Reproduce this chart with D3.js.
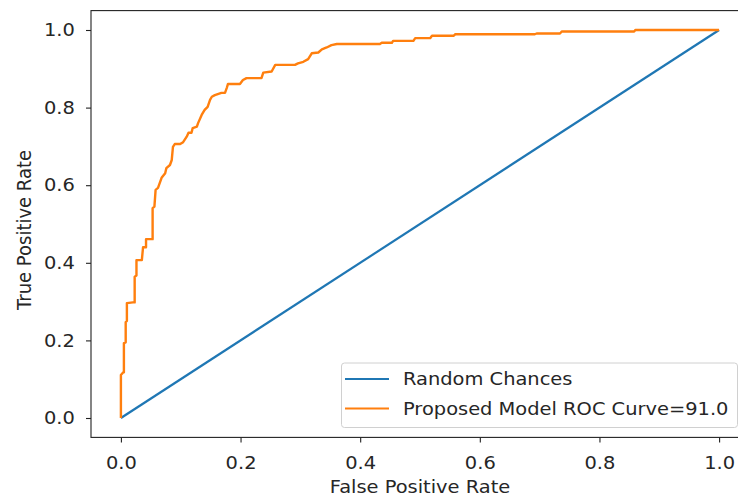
<!DOCTYPE html>
<html><head><meta charset="utf-8">
<script src="https://cdn.jsdelivr.net/npm/d3@7"></script>
<style>
html,body{margin:0;padding:0;background:#fff;}
text{font-family:"DejaVu Sans",sans-serif;fill:#262626;}
</style></head>
<body><svg id="chart" width="738" height="497"></svg>
<script>
// Data
const randomFpr = [0, 1];
const randomTpr = [0, 1];
const modelFpr = [0,0,0.004,0.005,0.005,0.008,0.008,0.010,0.010,0.020,0.023,0.023,0.026,0.026,0.035,0.037,0.042,0.042,0.053,0.053,0.056,0.058,0.062,0.068,0.074,0.076,0.082,0.085,0.087,0.090,0.099,0.104,0.110,0.113,0.118,0.120,0.127,0.129,0.135,0.140,0.145,0.149,0.152,0.157,0.168,0.174,0.177,0.179,0.199,0.204,0.210,0.235,0.238,0.252,0.258,0.291,0.296,0.305,0.313,0.319,0.330,0.336,0.344,0.352,0.361,0.433,0.436,0.453,0.455,0.489,0.492,0.517,0.520,0.556,0.559,0.692,0.695,0.734,0.737,0.858,0.860,1.0];
const modelTpr = [0,0.111,0.118,0.118,0.193,0.195,0.247,0.250,0.296,0.298,0.298,0.364,0.367,0.407,0.407,0.440,0.440,0.461,0.461,0.541,0.545,0.588,0.593,0.619,0.631,0.644,0.652,0.665,0.699,0.706,0.706,0.711,0.725,0.735,0.735,0.747,0.751,0.760,0.781,0.794,0.802,0.820,0.828,0.832,0.838,0.838,0.851,0.861,0.861,0.871,0.876,0.876,0.890,0.893,0.910,0.910,0.914,0.918,0.925,0.940,0.942,0.950,0.955,0.961,0.964,0.964,0.967,0.967,0.972,0.972,0.979,0.979,0.985,0.985,0.989,0.989,0.991,0.991,0.996,0.996,1.0,1.0];
const tickValues = [0, 0.2, 0.4, 0.6, 0.8, 1.0];
const seriesNames = ["Random Chances", "Proposed Model ROC Curve=91.0"];
const seriesColors = ["#1f77b4", "#ff7f0e"];
const xTitle = "False Positive Rate";
const yTitle = "True Positive Rate";

const svg = d3.select("#chart");
const L = 91, R = 749, T = 10.6, B = 437.4;
const x = d3.scaleLinear().domain([-0.05, 1.05]).range([L, R]);
const y = d3.scaleLinear().domain([-0.05, 1.05]).range([B, T]);
const fs = 18, sx = 1.08;

const line = d3.line().x(d => x(d[0])).y(d => y(d[1]));
const randomPts = randomFpr.map((v, i) => [v, randomTpr[i]]);
const modelPts = modelFpr.map((v, i) => [v, modelTpr[i]]);

svg.append("path").datum(randomPts).attr("d", line)
  .attr("fill", "none").attr("stroke", seriesColors[0]).attr("stroke-width", 2.2);
svg.append("path").datum(modelPts).attr("d", line)
  .attr("fill", "none").attr("stroke", seriesColors[1]).attr("stroke-width", 2.4)
  .attr("stroke-linejoin", "round");

// Axes
const fmt = d3.format(".1f");
const gx = svg.append("g").attr("transform", `translate(0,${B})`)
  .call(d3.axisBottom(x).tickValues(tickValues).tickFormat(fmt).tickSize(5).tickPadding(14));
const gy = svg.append("g").attr("transform", `translate(${L},0)`)
  .call(d3.axisLeft(y).tickValues(tickValues).tickFormat(fmt).tickSize(5).tickPadding(10));
[gx, gy].forEach(g => {
  g.select(".domain").remove();
  g.selectAll(".tick line").attr("stroke", "#222").attr("stroke-width", 1.1);
  g.selectAll(".tick text").attr("font-size", fs).attr("font-family", "DejaVu Sans")
    .attr("fill", "#262626").attr("transform", `scale(${sx},1)`);
});

// Frame
svg.append("rect").attr("x", L).attr("y", T).attr("width", R - L).attr("height", B - T)
  .attr("fill", "none").attr("stroke", "#222").attr("stroke-width", 1.1);

// Titles
svg.append("text").attr("transform", `translate(${(L + R) / 2},493) scale(${sx},1)`)
  .attr("text-anchor", "middle").attr("font-size", fs).text(xTitle);
svg.append("text").attr("transform", `translate(31,230) rotate(-90) scale(1,${sx})`)
  .attr("text-anchor", "middle").attr("font-size", fs).text(yTitle);

// Legend
const lg = svg.append("g");
lg.append("rect").attr("x", 341.5).attr("y", 363).attr("width", 396).attr("height", 64.5)
  .attr("rx", 3).attr("fill", "#fff").attr("fill-opacity", 0.8)
  .attr("stroke", "#d0d0d0").attr("stroke-width", 1);
seriesNames.forEach((n, i) => {
  const yy = 379 + i * 29.5;
  lg.append("line").attr("x1", 345).attr("x2", 389).attr("y1", yy).attr("y2", yy)
    .attr("stroke", seriesColors[i]).attr("stroke-width", 2.2);
  lg.append("text").attr("transform", `translate(403,${yy}) scale(${sx},1)`).attr("dy", "0.35em")
    .attr("font-size", fs).text(n);
});
</script></body></html>
